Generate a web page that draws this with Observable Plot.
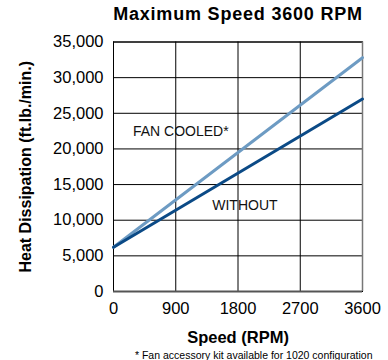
<!DOCTYPE html>
<html><head><meta charset="utf-8">
<script src="https://cdn.jsdelivr.net/npm/d3@7"></script>
<script src="https://cdn.jsdelivr.net/npm/@observablehq/plot@0.6"></script>
<style>body{margin:0;background:#fff;} .ttl text{letter-spacing:0.8px;}</style>
</head><body><div id="chart"></div>
<script>
const speed = [0, 3600];
const fanCooled = [6200, 32800];
const without = [6200, 27000];
const xTicks = [0, 900, 1800, 2700, 3600];
const yTicks = [0, 5000, 10000, 15000, 20000, 25000, 30000, 35000];
const seriesLabels = [
  {name: "FAN COOLED*", x: 973, y: 22400},
  {name: "WITHOUT", x: 1900, y: 12100}
];
const titleText = "Maximum Speed 3600 RPM";
const xLabel = "Speed (RPM)";
const yLabel = "Heat Dissipation (ft.lb./min.)";
const caption = "* Fan accessory kit available for 1020 configuration";

const fanData = speed.map((s, i) => ({speed: s, heat: fanCooled[i]}));
const withoutData = speed.map((s, i) => ({speed: s, heat: without[i]}));

const chart = Plot.plot({
  width: 388, height: 360,
  marginLeft: 113, marginRight: 26, marginTop: 41.5, marginBottom: 69,
  style: {fontFamily: "'Liberation Sans', Arial, sans-serif", fontSize: "16.5px", color: "#000", background: "#fff"},
  x: {domain: [0, 3600], ticks: xTicks, tickSize: 0, tickPadding: 11, label: null, tickFormat: d3.format("d")},
  y: {domain: [0, 35000], ticks: yTicks, tickSize: 0, tickPadding: 10, label: null, tickFormat: d3.format(",")},
  marks: [
    Plot.gridX(xTicks, {stroke: "#000", strokeOpacity: 1, strokeWidth: 1}),
    Plot.gridY(yTicks, {stroke: "#000", strokeOpacity: 1, strokeWidth: 1}),
    Plot.frame({stroke: "#000", strokeWidth: 1}),
    Plot.ruleY([0], {stroke: "#555", strokeWidth: 2}),
    Plot.ruleX([3600], {stroke: "#777", strokeWidth: 1.5}),
    Plot.line(fanData, {x: "speed", y: "heat", stroke: "#6d9bc3", strokeWidth: 3}),
    Plot.line(withoutData, {x: "speed", y: "heat", stroke: "#0b4a86", strokeWidth: 3}),
    Plot.text(seriesLabels, {x: "x", y: "y", text: "name", fontSize: 14, fill: "#111"}),
    Plot.text([titleText], {frameAnchor: "top", lineAnchor: "middle", textAnchor: "middle", dy: -27.5, fontSize: 18, fontWeight: "bold", fill: "#000", className: "ttl"}),
    Plot.text([xLabel], {frameAnchor: "bottom", lineAnchor: "middle", textAnchor: "middle", dy: 46, fontSize: 16.5, fontWeight: "bold", fill: "#000"}),
    Plot.text([yLabel], {frameAnchor: "left", textAnchor: "middle", lineAnchor: "middle", dx: -88, rotate: -90, fontSize: 16, fontWeight: "bold", fill: "#000"}),
    Plot.text([caption], {frameAnchor: "bottom-right", lineAnchor: "middle", dx: 10, dy: 64, textAnchor: "end", fontSize: 10.5, fill: "#000"})
  ]
});
document.getElementById("chart").appendChild(chart);
</script>
</body></html>
